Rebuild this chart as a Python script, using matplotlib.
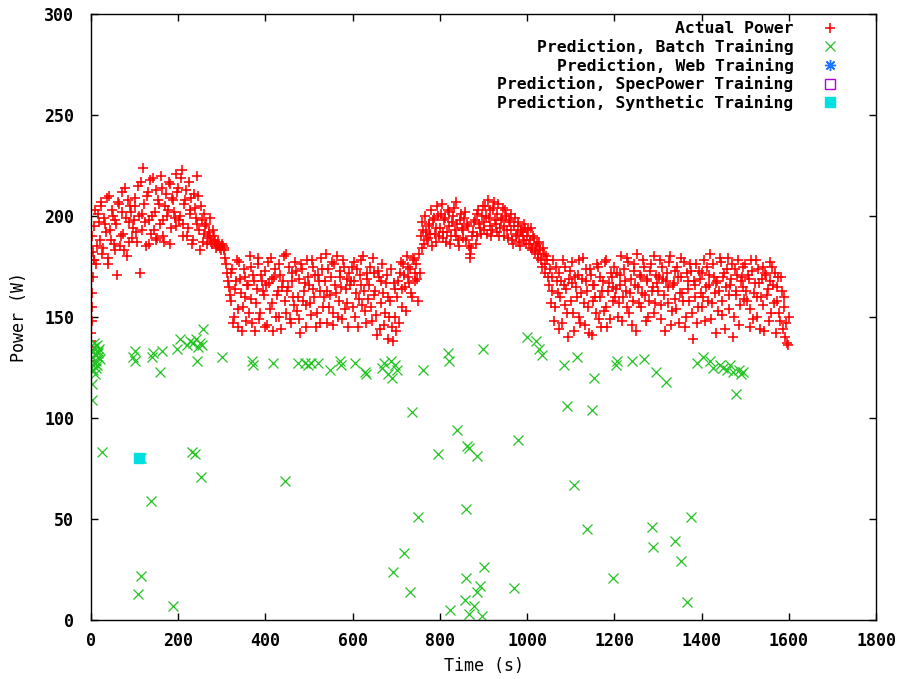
import numpy as np
import matplotlib
matplotlib.use('Agg')
import matplotlib.pyplot as plt

plt.rcParams['font.family'] = 'DejaVu Sans Mono'
plt.rcParams['font.weight'] = 'bold'

# ── Actual power, one reading every 4 s (0..1600 s) ───────────────────────
power_0_100 = [138, 182, 195, 176, 201, 188, 207, 184, 196, 209, 179, 193, 203,
               186, 198, 171, 206, 190, 212, 183, 199, 208, 187, 202, 194]
power_100_200 = [205, 192, 215, 172, 201, 224, 197, 210, 186, 218, 200, 193, 213,
                 189, 206, 220, 198, 187, 211, 203, 216, 194, 208, 199, 221]
power_200_300 = [214, 200, 223, 196, 208, 190, 217, 203, 186, 211, 199, 220, 193,
                 205, 187, 201, 196, 190, 199, 187, 193, 188, 185, 187, 184]
power_300_400 = [186, 184, 179, 172, 165, 158, 174, 150, 168, 145, 177, 162, 155,
                 170, 148, 166, 180, 159, 171, 143, 164, 176, 152, 168, 161]
power_400_500 = [173, 146, 167, 179, 157, 170, 150, 163, 176, 144, 168, 158, 181,
                 165, 149, 172, 160, 177, 153, 169, 142, 174, 163, 156, 178]
power_500_600 = [166, 151, 175, 160, 145, 171, 163, 179, 155, 168, 147, 174, 161,
                 177, 152, 166, 180, 158, 170, 149, 175, 164, 157, 172, 168]
power_600_700 = [155, 177, 162, 145, 171, 166, 180, 153, 169, 159, 175, 148, 172,
                 163, 141, 170, 157, 176, 146, 167, 160, 150, 174, 138, 164]
power_700_800 = [143, 168, 172, 155, 176, 165, 180, 170, 174, 160, 178, 172, 169,
                 181, 190, 197, 186, 192, 189, 195, 203, 198, 191, 187, 200]
power_800_900 = [194, 206, 189, 199, 192, 202, 186, 197, 204, 190, 196, 185, 201,
                 193, 199, 188, 195, 181, 184, 192, 198, 190, 203, 194, 200]
power_900_1000 = [197, 205, 191, 199, 203, 193, 207, 196, 201, 190, 198, 204, 195,
                  200, 189, 197, 193, 186, 199, 191, 195, 185, 192, 188, 194]
power_1000_1100 = [190, 186, 194, 183, 189, 185, 181, 187, 178, 184, 176, 180, 170,
                   174, 163, 178, 155, 168, 172, 160, 147, 166, 175, 152, 169]
power_1100_1200 = [158, 177, 143, 165, 171, 150, 162, 179, 146, 168, 155, 174, 141,
                   166, 160, 176, 149, 170, 163, 153, 178, 145, 167, 172, 158]
power_1200_1300 = [175, 164, 150, 171, 180, 160, 168, 155, 177, 162, 146, 173, 166,
                   181, 157, 170, 162, 175, 148, 168, 158, 176, 165, 152, 171]
power_1300_1400 = [163, 178, 156, 169, 143, 172, 165, 180, 153, 167, 159, 175, 147,
                   170, 162, 177, 150, 168, 158, 173, 139, 166, 176, 155, 169]
power_1400_1500 = [172, 160, 148, 175, 166, 181, 157, 170, 142, 168, 163, 177, 151,
                   172, 165, 179, 154, 169, 140, 174, 161, 178, 156, 170, 165]
power_1500_1600 = [176, 158, 169, 145, 173, 162, 178, 150, 167, 160, 175, 143, 171,
                   164, 177, 152, 166, 172, 158, 170, 148, 163, 155, 140, 137, 150]

# readings in between (t = 2, 6, 10, ...)
mid_0_100 = [190, 178, 203, 185, 197, 205, 181, 199, 192, 176, 210, 188, 200,
             183, 196, 207, 185, 202, 191, 214, 180, 197, 205, 189, 198]
mid_100_200 = [209, 187, 200, 217, 193, 206, 185, 212, 198, 191, 219, 202, 188,
               208, 196, 214, 190, 205, 200, 217, 186, 209, 202, 195, 212]
mid_200_300 = [198, 219, 190, 206, 213, 194, 201, 209, 188, 204, 196, 210, 183,
               198, 191, 195, 186, 192, 189, 186, 190, 184, 186, 185, 183]
mid_300_400 = [185, 183, 176, 168, 161, 172, 147, 164, 178, 154, 169, 143, 174,
               160, 166, 152, 175, 147, 168, 157, 179, 149, 171, 163, 145]
mid_400_500 = [166, 177, 154, 169, 143, 174, 161, 150, 171, 165, 180, 152, 163,
               175, 147, 168, 156, 173, 160, 149, 176, 158, 167, 145, 170]
mid_500_600 = [157, 178, 164, 171, 152, 168, 147, 174, 160, 181, 163, 155, 170,
               146, 176, 162, 150, 173, 165, 178, 154, 169, 145, 166, 175]
mid_600_700 = [168, 150, 174, 159, 178, 156, 163, 147, 172, 166, 155, 179, 161,
               151, 173, 144, 168, 162, 152, 171, 139, 158, 145, 167, 150]
mid_700_800 = [160, 147, 177, 164, 171, 153, 175, 167, 162, 179, 168, 176, 158,
               172, 184, 193, 200, 188, 196, 191, 185, 199, 194, 205, 190]
mid_800_900 = [201, 192, 198, 187, 203, 195, 190, 200, 193, 207, 188, 198, 194,
               189, 202, 196, 185, 179, 190, 197, 186, 201, 196, 191, 205]
mid_900_1000 = [193, 200, 208, 195, 190, 204, 198, 192, 206, 194, 199, 190, 203,
                193, 198, 201, 188, 195, 190, 197, 187, 193, 190, 196, 186]
mid_1000_1100 = [193, 188, 184, 190, 182, 186, 179, 183, 175, 181, 172, 178, 166,
                 157, 170, 148, 175, 162, 144, 168, 178, 156, 164, 140, 173]
mid_1100_1200 = [167, 152, 170, 160, 178, 147, 169, 157, 174, 163, 142, 171, 158,
                 166, 152, 175, 160, 145, 168, 177, 155, 163, 149, 170, 165]
mid_1200_1300 = [160, 172, 157, 166, 148, 174, 163, 179, 152, 169, 158, 176, 143,
                 165, 171, 155, 178, 161, 169, 150, 173, 163, 180, 157, 167]
mid_1300_1400 = [170, 149, 175, 161, 168, 157, 177, 146, 166, 173, 154, 170, 162,
                 179, 158, 145, 172, 164, 176, 152, 168, 160, 147, 173, 162]
mid_1400_1500 = [155, 178, 165, 158, 171, 149, 176, 162, 167, 153, 179, 158, 170,
                 144, 174, 161, 166, 176, 150, 163, 171, 146, 168, 175, 159]
mid_1500_1600 = [163, 171, 154, 178, 149, 167, 160, 174, 144, 169, 156, 172, 161,
                 148, 168, 175, 157, 142, 165, 152, 170, 144, 160, 147, 136]

# start-up readings stacked near t = 0
warmup_t = [0, 1, 1, 2, 2, 3, 5, 6]
warmup_p = [128, 135, 142, 148, 155, 162, 170, 178]

# ── Batch-training predictions (time, power) ──────────────────────────────
batch_t = [0, 2, 2, 3, 5, 6, 8, 9, 10, 12, 13, 14, 15, 16, 18, 20, 4, 7, 11, 17,
           25, 97, 100, 100, 115, 108, 115, 137, 140, 142, 163, 158, 188, 197, 204,
           220, 228, 235, 240, 245, 250, 255, 257, 243, 232, 238, 252, 300, 369, 372,
           418, 445, 475, 490, 497, 505, 520, 548, 571, 574, 605, 628, 631,
           667, 672, 680, 687, 690, 697, 702, 693, 718, 731, 736, 750, 761,
           796, 819, 821, 823, 839, 858, 860, 860, 862, 866, 867, 878, 885, 885,
           892, 897, 899, 901, 970, 979, 1000, 1020, 1027, 1034, 1085, 1092, 1108,
           1114, 1137, 1148, 1153, 1197, 1204, 1206, 1240, 1268, 1286, 1288, 1295,
           1318, 1339, 1353, 1367, 1376, 1389, 1404, 1420, 1427, 1443, 1450, 1458,
           1465, 1472, 1479, 1485, 1490, 1495]
batch_p = [125, 117, 109, 130, 133, 127, 135, 122, 131, 128, 136, 126, 133, 130, 134, 129, 124, 137, 125, 132,
           83, 130, 133, 128, 80, 13, 22, 59, 130, 132, 133, 123, 7, 134, 139,
           136, 138, 137, 139, 135, 137, 136, 144, 128, 83, 82, 71, 130, 128, 126,
           127, 69, 127, 127, 126, 127, 127, 124, 128, 126, 127, 123, 122,
           125, 127, 122, 128, 120, 126, 124, 24, 33, 14, 103, 51, 124,
           82, 132, 128, 5, 94, 10, 55, 21, 86, 85, 3, 7, 81, 14,
           17, 2, 134, 26, 16, 89, 140, 138, 134, 131, 126, 106, 67,
           130, 45, 104, 120, 21, 126, 128, 128, 129, 46, 36, 123,
           118, 39, 29, 9, 51, 127, 130, 128, 125, 126, 125, 124,
           126, 123, 112, 124, 122, 123]

web_t, web_p = [], []
spec_t, spec_p = [], []
synth_t, synth_p = [110], [80]

power = (power_0_100 + power_100_200 + power_200_300 + power_300_400 +
         power_400_500 + power_500_600 + power_600_700 + power_700_800 +
         power_800_900 + power_900_1000 + power_1000_1100 + power_1100_1200 +
         power_1200_1300 + power_1300_1400 + power_1400_1500 + power_1500_1600)
mid = (mid_0_100 + mid_100_200 + mid_200_300 + mid_300_400 + mid_400_500 +
       mid_500_600 + mid_600_700 + mid_700_800 + mid_800_900 + mid_900_1000 +
       mid_1000_1100 + mid_1100_1200 + mid_1200_1300 + mid_1300_1400 +
       mid_1400_1500 + mid_1500_1600)
time = 4 * np.arange(len(power))
mid_time = 2 + 4 * np.arange(len(mid))

all_t = np.concatenate([warmup_t, time, mid_time])
all_p = np.concatenate([warmup_p, power, mid])

fig = plt.figure(figsize=(8.97, 6.79), dpi=100)
ax = fig.add_axes([91 / 897, 59 / 679, 785 / 897, 606 / 679])

ax.plot(all_t, all_p, ls='none', marker='+', ms=7.5, mew=1.15, color='#ff0000',
        label='Actual Power')
ax.plot(batch_t, batch_p, ls='none', marker='x', ms=7, mew=0.9, color='#22c422',
        label='Prediction, Batch Training')
ax.plot(web_t, web_p, ls='none', marker=(8, 2, 0), ms=8, mew=1.0, color='#1a75ff',
        label='Prediction, Web Training')
ax.plot(spec_t, spec_p, ls='none', marker='s', ms=7, mew=1.0, mfc='none',
        color='#b000e0', label='Prediction, SpecPower Training')
ax.plot(synth_t, synth_p, ls='none', marker='s', ms=6.5, color='#00e0e0',
        label='Prediction, Synthetic Training')

ax.set_xlim(0, 1800)
ax.set_ylim(0, 300)
ax.set_xticks(np.arange(0, 1801, 200))
ax.set_yticks(np.arange(0, 301, 50))
ax.tick_params(direction='in', length=5, width=1, top=True, right=True,
               labelsize=12)
ax.tick_params(axis='y', pad=12)
ax.tick_params(axis='x', pad=9)
for s in ax.spines.values():
    s.set_linewidth(1)

ax.set_xlabel('Time (s)', fontsize=12, labelpad=5)
ax.set_ylabel('Power (W)', fontsize=12, labelpad=12)

ax.legend(loc='upper right', markerfirst=False, frameon=False, fontsize=11.8,
          handlelength=1.2, handletextpad=1.6, labelspacing=0.16,
          borderaxespad=0.05, bbox_to_anchor=(0.963, 1.0))

fig.savefig('out.png', dpi=100)
